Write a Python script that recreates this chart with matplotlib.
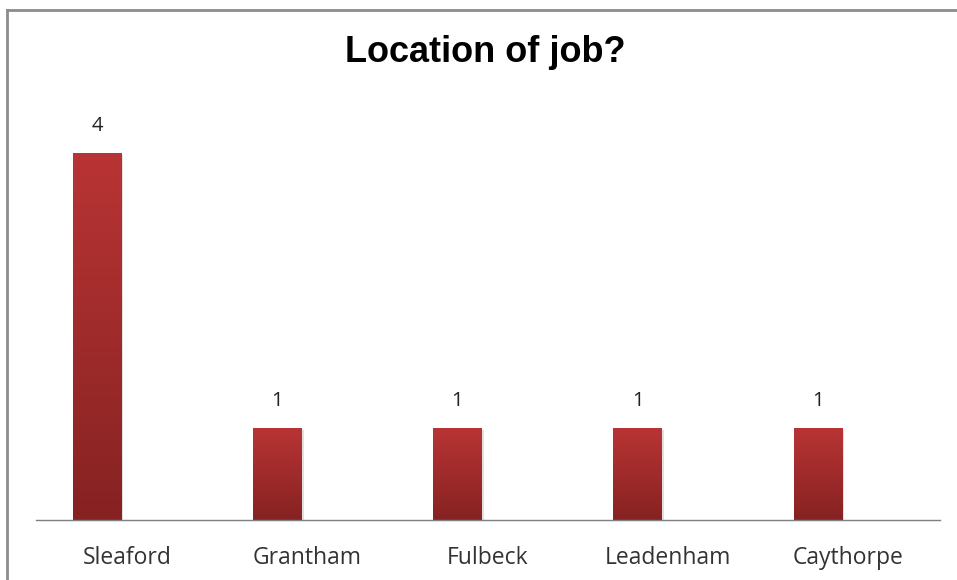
import matplotlib.pyplot as plt
import numpy as np
from matplotlib.colors import LinearSegmentedColormap
from matplotlib.lines import Line2D
from matplotlib.transforms import ScaledTranslation

locations = ['Sleaford', 'Grantham', 'Fulbeck', 'Leadenham', 'Caythorpe']
counts = [4, 1, 1, 1, 1]

fig = plt.figure(figsize=(9.57, 5.8), dpi=100)
W, H = 957, 580

# chart frame (left and top edges)
fig.add_artist(Line2D([7 / W, 7 / W], [0, 1 - 10 / H], color='#8c8c8c', lw=2.0))
fig.add_artist(Line2D([7 / W, 1], [1 - 10 / H, 1 - 10 / H], color='#8c8c8c', lw=2.0))

ax = fig.add_axes([36 / W, 60 / H, (940 - 36) / W, 420 / H])
x = np.arange(len(locations))
bars = ax.bar(x, counts, width=0.27, color='none', zorder=2)

# vertical red gradient on each bar, lighter at the top
cmap = LinearSegmentedColormap.from_list('bar_red', ['#862222', '#b93434'])
grad = np.linspace(0, 1, 256).reshape(-1, 1)
for b in bars:
    x0, w, h = b.get_x(), b.get_width(), b.get_height()
    # soft shadow
    ax.bar(x0 + w / 2 + 0.012, h, width=w, bottom=-0.02, color='#000000', alpha=0.12, zorder=1)
    ax.imshow(grad, cmap=cmap, origin='lower', aspect='auto',
              extent=[x0, x0 + w, 0, h], zorder=3)

for xi, c in zip(x, counts):
    ax.text(xi, c + 0.19, str(c), ha='center', va='bottom', fontsize=14.5,
            family='Open Sans', color='#222222')

ax.set_xlim(-0.338, 4.677)
ax.set_ylim(0, 4.578)
ax.set_xticks(x)
ax.set_xticklabels(locations, fontsize=16.5, family='Open Sans', color='#333333')
ax.tick_params(axis='x', length=0, pad=19)
# category labels sit a little right of their bars
shift = ScaledTranslation(0.30, 0, fig.dpi_scale_trans)
for lbl in ax.get_xticklabels():
    lbl.set_transform(lbl.get_transform() + shift)
ax.set_yticks([])
for s in ['top', 'right', 'left']:
    ax.spines[s].set_visible(False)
ax.spines['bottom'].set_color('#7f7f7f')
ax.spines['bottom'].set_linewidth(1.0)
ax.spines['bottom'].set_zorder(4)

fig.text(485 / W, 1 - 52 / H, 'Location of job?', ha='center', va='center',
         fontsize=26, fontweight='bold', family='Liberation Sans')

fig.savefig('out.png', dpi=100)
